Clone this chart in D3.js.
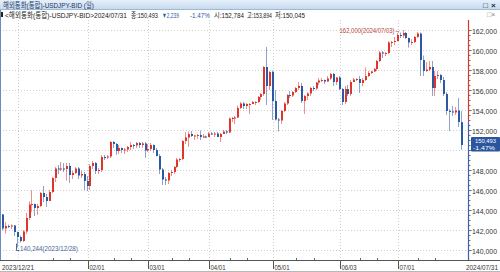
<!DOCTYPE html>
<html>
<head>
<meta charset="utf-8">
<script src="https://cdn.jsdelivr.net/npm/d3@7"></script>
<style>
  body { margin: 0; background: #fff; }
  svg { display: block; font-family: "Liberation Sans", "Noto Sans CJK KR", sans-serif; }
</style>
</head>
<body>
<svg id="drawing_region"></svg>
<script>
// daily USDJPY bid candles (2023/12/21 - 2024/07/31)
const dates = [
    "2023/12/21 2023/12/22 2023/12/25 2023/12/26 2023/12/27 2023/12/28 2023/12/29",
    "2024/01/02 2024/01/03 2024/01/04 2024/01/05 2024/01/08 2024/01/09 2024/01/10 2024/01/11 2024/01/12 2024/01/15 2024/01/16 2024/01/17 2024/01/18 2024/01/19 2024/01/22 2024/01/23 2024/01/24 2024/01/25 2024/01/26 2024/01/29 2024/01/30 2024/01/31",
    "2024/02/01 2024/02/02 2024/02/05 2024/02/06 2024/02/07 2024/02/08 2024/02/09 2024/02/12 2024/02/13 2024/02/14 2024/02/15 2024/02/16 2024/02/19 2024/02/20 2024/02/21 2024/02/22 2024/02/23 2024/02/26 2024/02/27 2024/02/28 2024/02/29",
    "2024/03/01 2024/03/04 2024/03/05 2024/03/06 2024/03/07 2024/03/08 2024/03/11 2024/03/12 2024/03/13 2024/03/14 2024/03/15 2024/03/18 2024/03/19 2024/03/20 2024/03/21 2024/03/22 2024/03/25 2024/03/26 2024/03/27 2024/03/28 2024/03/29",
    "2024/04/01 2024/04/02 2024/04/03 2024/04/04 2024/04/05 2024/04/08 2024/04/09 2024/04/10 2024/04/11 2024/04/12 2024/04/15 2024/04/16 2024/04/17 2024/04/18 2024/04/19 2024/04/22 2024/04/23 2024/04/24 2024/04/25 2024/04/26 2024/04/29 2024/04/30",
    "2024/05/01 2024/05/02 2024/05/03 2024/05/06 2024/05/07 2024/05/08 2024/05/09 2024/05/10 2024/05/13 2024/05/14 2024/05/15 2024/05/16 2024/05/17 2024/05/20 2024/05/21 2024/05/22 2024/05/23 2024/05/24 2024/05/27 2024/05/28 2024/05/29 2024/05/30 2024/05/31",
    "2024/06/03 2024/06/04 2024/06/05 2024/06/06 2024/06/07 2024/06/10 2024/06/11 2024/06/12 2024/06/13 2024/06/14 2024/06/17 2024/06/18 2024/06/19 2024/06/20 2024/06/21 2024/06/24 2024/06/25 2024/06/26 2024/06/27 2024/06/28",
    "2024/07/01 2024/07/02 2024/07/03 2024/07/04 2024/07/05 2024/07/08 2024/07/09 2024/07/10 2024/07/11 2024/07/12 2024/07/15 2024/07/16 2024/07/17 2024/07/18 2024/07/19 2024/07/22 2024/07/23 2024/07/24 2024/07/25 2024/07/26 2024/07/29 2024/07/30 2024/07/31"
].join(" ").split(" ");

const open = [
    143.55,142.15,142.40,142.35,142.45,141.80,141.30,
    140.90,141.85,143.20,144.55,144.60,144.20,144.40,145.70,145.30,144.90,145.80,147.20,148.15,148.10,148.15,148.10,148.40,147.50,147.70,148.15,147.45,147.60,
    146.90,146.40,148.40,148.70,147.90,148.00,149.30,149.25,149.35,150.80,150.60,149.90,150.20,150.00,150.05,150.30,150.50,150.45,150.70,150.50,150.65,
    149.95,150.10,150.50,150.00,149.40,148.05,147.05,146.95,147.70,147.80,148.30,149.05,149.10,150.90,151.25,151.60,151.40,151.45,151.50,151.30,151.35,
    151.30,151.65,151.55,151.65,151.30,151.60,151.85,151.75,153.15,153.20,153.25,154.20,154.65,154.40,154.60,154.60,154.80,154.80,155.30,155.60,158.30,156.40,
    157.80,154.90,153.05,152.95,153.90,154.65,155.50,155.45,155.80,156.20,156.40,154.90,155.40,155.65,156.20,156.15,156.75,156.95,157.00,156.85,157.15,157.60,156.80,
    157.25,156.10,154.80,156.10,155.60,156.80,157.05,157.10,156.70,157.00,157.40,157.70,157.85,158.10,158.90,159.75,159.65,159.70,160.75,160.80,
    160.90,161.50,161.45,161.70,161.20,160.75,160.80,161.30,161.65,159.00,157.90,158.05,158.30,156.20,157.40,157.50,157.00,155.60,153.90,153.85,153.75,153.95,152.784
];
const high = [
    143.60,142.80,142.55,142.55,142.50,141.85,141.45,
    142.00,143.70,144.85,145.98,144.65,144.60,145.80,146.40,145.60,146.00,147.30,148.30,148.50,148.80,148.70,148.70,148.70,147.90,148.30,148.30,147.90,147.80,
    147.40,148.60,148.90,148.80,148.20,149.50,149.50,149.50,150.90,150.90,150.70,150.50,150.25,150.20,150.40,150.80,150.60,150.80,150.80,150.80,150.80,
    150.60,150.70,150.55,150.20,149.60,148.20,147.30,147.80,148.00,148.40,149.20,149.20,151.00,151.80,151.85,151.90,151.50,151.60,151.95,151.60,151.45,
    151.80,151.80,151.80,151.80,151.70,152.00,152.00,153.25,153.30,153.40,154.45,154.80,154.80,154.70,154.70,154.90,154.90,155.40,155.70,158.40,160.30,157.90,
    157.95,156.00,153.20,154.00,154.80,155.60,155.90,155.90,156.30,156.80,156.70,155.50,155.80,156.30,156.40,156.80,157.20,157.20,157.05,157.40,157.70,157.70,157.30,
    157.40,156.20,156.40,156.50,157.00,157.20,157.20,157.40,157.20,158.25,157.90,157.90,158.20,159.00,159.90,159.90,159.80,160.90,160.90,161.30,
    161.70,161.75,162.00,161.80,161.25,161.10,161.40,161.80,161.75,159.45,158.80,158.90,158.90,157.90,157.90,157.60,157.30,155.80,154.10,154.40,154.30,155.20,153.894
];
const low = [
    141.95,141.65,142.20,142.10,141.40,140.244,140.75,
    140.80,141.60,143.00,143.80,143.40,143.50,144.30,144.80,144.30,144.90,145.70,146.80,147.60,147.90,147.80,146.95,146.70,147.10,147.60,147.10,147.20,146.00,
    145.90,146.00,148.10,147.60,147.60,147.80,149.00,149.10,149.20,150.20,149.50,149.60,149.70,149.60,149.80,150.00,150.10,150.20,150.20,150.20,149.20,
    149.80,149.90,149.70,149.35,147.60,146.48,146.50,146.60,147.40,147.60,148.20,148.80,149.00,150.60,150.30,151.30,151.00,151.10,151.00,151.20,151.20,
    151.30,151.50,151.30,151.30,150.80,151.60,151.60,151.70,152.80,152.60,153.20,154.10,154.10,154.10,153.60,154.60,154.50,154.70,155.00,155.40,154.50,156.00,
    153.00,152.95,151.86,152.60,153.80,154.50,155.20,155.30,155.70,156.00,154.70,153.60,155.00,155.40,155.90,156.00,156.50,156.80,156.60,156.80,157.00,156.40,156.50,
    156.00,154.50,154.60,155.40,155.40,156.80,156.90,155.70,156.40,156.90,157.30,157.60,157.80,157.90,158.80,159.20,159.40,159.60,160.30,160.50,
    160.85,161.20,161.20,161.10,160.25,160.50,160.70,161.20,157.40,157.40,157.80,157.90,155.40,155.40,157.10,156.70,155.40,153.50,151.90,153.40,153.50,152.30,150.045
];
const close = [
    142.15,142.40,142.35,142.45,141.80,141.30,140.90,
    141.85,143.20,144.55,144.60,144.20,144.40,145.70,145.30,144.90,145.80,147.20,148.15,148.10,148.15,148.10,148.40,147.50,147.70,148.15,147.45,147.60,146.90,
    146.40,148.40,148.70,147.90,148.00,149.30,149.25,149.35,150.80,150.60,149.90,150.20,150.00,150.05,150.30,150.50,150.45,150.70,150.50,150.65,149.95,
    150.10,150.50,150.00,149.40,148.05,147.05,146.95,147.70,147.80,148.30,149.05,149.10,150.90,151.25,151.60,151.40,151.45,151.50,151.30,151.35,151.30,
    151.65,151.55,151.65,151.30,151.60,151.85,151.75,153.15,153.20,153.25,154.20,154.65,154.40,154.60,154.60,154.80,154.80,155.30,155.60,158.30,156.40,157.80,
    154.90,153.05,152.95,153.90,154.65,155.50,155.45,155.80,156.20,156.40,154.90,155.40,155.65,156.20,156.15,156.75,156.95,157.00,156.85,157.15,157.60,156.80,157.25,
    156.10,154.80,156.10,155.60,156.80,157.05,157.10,156.70,157.00,157.40,157.70,157.85,158.10,158.90,159.75,159.65,159.70,160.75,160.80,160.90,
    161.50,161.45,161.70,161.20,160.75,160.80,161.30,161.65,159.00,157.90,158.05,158.30,156.20,157.40,157.50,157.00,155.60,153.90,153.85,153.75,153.95,152.80,150.493
];

const xTicks = ["2023/12/21","2024/02/01","2024/03/01","2024/04/01","2024/05/01","2024/06/03","2024/07/01","2024/07/31"];
const xTickLabels = ["2023/12/21","02/01","03/01","04/01","05/01","06/03","07/01","2024/07/31"];
const xMinorTicks = ["2024/01/16","2024/01/24","2024/02/14","2024/02/22","2024/03/13","2024/03/21","2024/04/10","2024/04/18",
    "2024/05/13","2024/05/21","2024/06/12","2024/06/20","2024/07/10","2024/07/18"];
const xGrid = ["2023/12/28","2024/02/01","2024/03/01","2024/04/01","2024/05/01","2024/06/03","2024/07/01"];
const yTicks = [140,142,144,146,148,150,152,154,156,158,160,162];

const titleText = "해외통화(통합)-USDJPY-BID (일)";
const infoName = "<해외통화(통합)-USDJPY-BID>2024/07/31";
const lastClose = "150,493", lastChange = "▼2,239", lastPct = "-1.47%";
const lastOpen = "152,784", lastHigh = "153,894", lastLow = "150,045";
const maxNote = "162,000(2024/07/03)→", minNote = "140,244(2023/12/28)";

const RED = "#e0352b", BLUE = "#2d58a6";
const fmt = v => d3.format(".3f")(v).replace(".", ",");

// squeeze a text horizontally so it spans w pixels from x
function fit(sel, x, y, w) {
    sel.attr('x', 0).attr('y', 0);
    const n = sel.node().getComputedTextLength();
    sel.attr('transform', `translate(${x},${y}) scale(${w / n},1)`);
    return sel;
}

class CandleChart {
    constructor(config, data) {
        this.config = config;
        this.data = data;
        this.init();
    }

    init() {
        let self = this;
        self.svg = d3.select(self.config.parent)
            .attr('width', self.config.width)
            .attr('height', self.config.height);

        self.xscale = d3.scaleBand()
            .domain(self.data.map(d => d.date))
            .range([2, 463]);
        self.yscale = d3.scaleLinear()
            .domain([140, 162])
            .range([250, 30]);
    }

    cx(d) { return this.xscale(d) + this.xscale.bandwidth() / 2; }

    render() {
        let self = this;
        const svg = self.svg, y = self.yscale;
        const axisX = 468.5, plotTop = 20, axisY = 260;
        const last = self.data[self.data.length - 1];
        const by = y(last.close);

        // header bars
        const grad = svg.append('defs').append('linearGradient')
            .attr('id', 'hdr').attr('x1', 0).attr('y1', 0).attr('x2', 0).attr('y2', 1);
        grad.append('stop').attr('offset', '0%').attr('stop-color', '#e6f0fa');
        grad.append('stop').attr('offset', '100%').attr('stop-color', '#c7daee');
        svg.append('rect').attr('x', 0).attr('y', 0).attr('width', 500).attr('height', 9).attr('fill', 'url(#hdr)');
        svg.append('line').attr('x1', 0).attr('x2', 500).attr('y1', 9.5).attr('y2', 9.5).attr('stroke', '#9fb8d6');
        fit(svg.append('text').attr('font-size', 8).attr('fill', '#22385f').text(titleText), 3, 7.5, 91);
        svg.append('text').attr('x', 483).attr('y', 7.5).attr('font-size', 8).attr('fill', '#1a2a44').text('□');
        svg.append('text').attr('x', 491).attr('y', 7.5).attr('font-size', 8).attr('font-weight', 'bold').attr('fill', '#1a2a44').text('×');

        // info line
        svg.append('rect').attr('x', 1).attr('y', 12).attr('width', 2).attr('height', 5).attr('fill', '#222');
        const info = [
            {x: 5, w: 122, t: infoName, c: '#222'},
            {x: 131, w: 27, t: '종:' + lastClose, c: '#222'},
            {x: 162, w: 17, t: lastChange, c: BLUE},
            {x: 190, w: 20, t: lastPct, c: BLUE},
            {x: 214, w: 30, t: '시:' + lastOpen, c: '#222'},
            {x: 247, w: 25, t: '고:' + lastHigh, c: '#222'},
            {x: 275, w: 30, t: '저:' + lastLow, c: '#222'}
        ];
        info.forEach(d => {
            fit(svg.append('text').attr('font-size', 7.5).attr('fill', d.c).text(d.t), d.x, 17.5, d.w);
        });
        svg.append('text').attr('x', 487).attr('y', 17).attr('font-size', 7).attr('fill', '#888').text('□×');

        // grid
        const grid = svg.append('g').attr('stroke', '#cfcfcf').attr('stroke-dasharray', '1,2');
        grid.selectAll('line.h').data(yTicks).join('line')
            .attr('x1', 0).attr('x2', axisX)
            .attr('y1', d => Math.round(y(d)) + 0.5).attr('y2', d => Math.round(y(d)) + 0.5);
        grid.selectAll('line.v').data(xGrid).join('line')
            .attr('class', 'v')
            .attr('x1', d => Math.round(self.cx(d)) + 0.5).attr('x2', d => Math.round(self.cx(d)) + 0.5)
            .attr('y1', plotTop).attr('y2', axisY);

        // candles
        const color = d => d.close >= d.open ? RED : BLUE;
        const candles = svg.append('g');
        candles.selectAll('line').data(self.data).join('line')
            .attr('x1', d => Math.round(self.cx(d.date)) - 0.5)
            .attr('x2', d => Math.round(self.cx(d.date)) - 0.5)
            .attr('y1', d => y(d.high)).attr('y2', d => y(d.low))
            .attr('stroke', color).attr('stroke-opacity', 0.55);
        candles.selectAll('rect').data(self.data).join('rect')
            .attr('x', d => Math.round(self.cx(d.date)) - 1)
            .attr('width', 2)
            .attr('y', d => y(Math.max(d.open, d.close)))
            .attr('height', d => Math.max(1, Math.abs(y(d.open) - y(d.close))))
            .attr('fill', color);

        // max / min notes
        const hi = self.data.reduce((a, b) => b.high > a.high ? b : a);
        const lo = self.data.reduce((a, b) => b.low < a.low ? b : a);
        fit(svg.append('text').attr('font-size', 7.5).attr('fill', '#b9493c').text(maxNote),
            self.cx(hi.date) - 64, y(hi.high) + 2.5, 61);
        const lx = Math.round(self.cx(lo.date)) - 1.5, ly = y(lo.low);
        svg.append('path').attr('d', `M${lx},${ly - 4}V${ly + 3}H${lx + 3}`)
            .attr('fill', 'none').attr('stroke', '#4a6694');
        fit(svg.append('text').attr('font-size', 7.5).attr('fill', '#4a6694').text(minNote), lx + 3.5, ly + 3.5, 58);

        // right price axis (label under the last-price box is hidden)
        const yAxis = d3.axisRight(y).tickValues(yTicks).tickSize(3).tickPadding(1).tickFormat(fmt);
        const ya = svg.append('g').attr('transform', `translate(${axisX},0)`).call(yAxis);
        ya.select('.domain').remove();
        ya.selectAll('.tick line').attr('stroke', '#555');
        ya.selectAll('.tick text').filter(d => Math.abs(y(d) - by) < 14).remove();
        ya.selectAll('.tick text').attr('font-size', 8).attr('fill', '#333')
            .attr('font-family', '"Liberation Sans", sans-serif')
            .each(function() { fit(d3.select(this).attr('dy', null), 3.5, 3, 25); });
        const minor = d3.axisRight(y).ticks(44).tickSize(2).tickFormat('');
        const ym = svg.append('g').attr('transform', `translate(${axisX},0)`).call(minor);
        ym.select('.domain').remove();
        ym.selectAll('.tick line').attr('stroke', '#777');
        svg.append('line').attr('x1', axisX).attr('x2', axisX).attr('y1', plotTop).attr('y2', y(last.open))
            .attr('stroke', '#d23a2e').attr('stroke-width', 1.2);
        svg.append('line').attr('x1', axisX).attr('x2', axisX).attr('y1', y(last.open)).attr('y2', axisY)
            .attr('stroke', '#3a62aa').attr('stroke-width', 1.2);

        // last price box
        svg.append('rect').attr('x', 471).attr('y', by - 8).attr('width', 29).attr('height', 14.5)
            .attr('rx', 1).attr('fill', '#2b559f');
        fit(svg.append('text').attr('font-size', 6).attr('fill', '#fff').text(lastClose), 475, by - 1.8, 21);
        fit(svg.append('text').attr('font-size', 6).attr('fill', '#fff').text(lastPct), 473, by + 5.2, 22);

        // bottom date axis
        svg.append('line').attr('x1', 0).attr('x2', 500).attr('y1', axisY + 0.5).attr('y2', axisY + 0.5).attr('stroke', '#555');
        const xa = svg.append('g').attr('transform', `translate(0,${axisY})`);
        xa.selectAll('line.minor').data(xMinorTicks).join('line')
            .attr('class', 'minor')
            .attr('x1', d => Math.round(self.cx(d)) + 0.5).attr('x2', d => Math.round(self.cx(d)) + 0.5)
            .attr('y1', -2).attr('y2', 0).attr('stroke', '#666');
        xTicks.forEach((d, i) => {
            const end = i === xTicks.length - 1;
            const px = Math.round(self.cx(d)) + 0.5;
            if (!end && i > 0) xa.append('line').attr('x1', px).attr('x2', px).attr('y1', 0).attr('y2', 9).attr('stroke', '#555');
            const w = xTickLabels[i].length > 5 ? 32 : 15;
            fit(xa.append('text').attr('font-size', 8).attr('fill', '#333').text(xTickLabels[i]),
                end ? 466 : (i === 0 ? 2 : px + 1), 10, w);
        });
        svg.append('line').attr('x1', 0).attr('x2', 500).attr('y1', 271.5).attr('y2', 271.5).attr('stroke', '#b8b8b8');

        // frame
        svg.append('line').attr('x1', 0.5).attr('x2', 0.5).attr('y1', 10).attr('y2', axisY).attr('stroke', '#6a8cc0');
    }
}

const data = dates.map((d, i) => ({date: d, open: open[i], high: high[i], low: low[i], close: close[i]}));
const chart = new CandleChart({parent: '#drawing_region', width: 500, height: 272}, data);
chart.render();
</script>
</body>
</html>
